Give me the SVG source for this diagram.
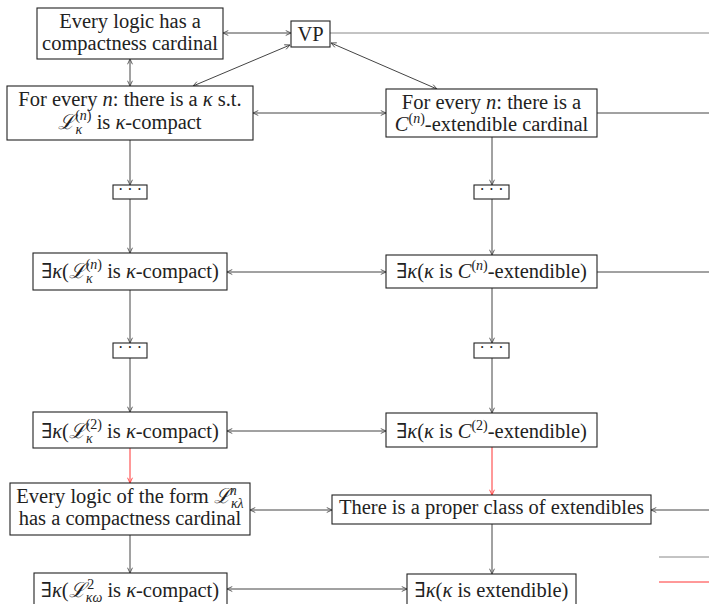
<svg xmlns="http://www.w3.org/2000/svg" width="709" height="604" viewBox="0 0 709 604">
<style>
.box{fill:#fff;stroke:#222;stroke-width:1.1}
.t{font-family:"Liberation Serif","DejaVu Serif",serif;font-size:20.5px;fill:#222;text-anchor:middle}
.i{font-style:italic}
.s{font-size:14px}
.c{fill:none;stroke:#444;stroke-width:1}
.g{fill:none;stroke:#888;stroke-width:1}
.r{fill:none;stroke:#f33;stroke-width:1}
.dots{font-family:"Liberation Serif","DejaVu Serif",serif;font-size:16px;fill:#222;text-anchor:middle}
</style>
<defs>
<marker id="a" viewBox="0 0 10 10" refX="9.5" refY="5" markerWidth="7" markerHeight="7" orient="auto-start-reverse" markerUnits="userSpaceOnUse"><path d="M2,1.5 L9.5,5 L2,8.5" fill="none" stroke="#444" stroke-width="1.2"/></marker>
<marker id="ar" viewBox="0 0 10 10" refX="9.5" refY="5" markerWidth="7" markerHeight="7" orient="auto-start-reverse" markerUnits="userSpaceOnUse"><path d="M2,1.5 L9.5,5 L2,8.5" fill="none" stroke="#f33" stroke-width="1.2"/></marker>
</defs>
<g id="connectors">
<line class="c" x1="223" y1="33" x2="291" y2="33" marker-start="url(#a)" marker-end="url(#a)"/>
<line class="g" x1="330" y1="33" x2="709" y2="33"/>
<line class="c" x1="290" y1="45" x2="193" y2="86" marker-start="url(#a)" marker-end="url(#a)"/>
<line class="c" x1="331" y1="43" x2="437" y2="89" marker-start="url(#a)" marker-end="url(#a)"/>
<line class="c" x1="130" y1="59" x2="130" y2="86" marker-start="url(#a)" marker-end="url(#a)"/>
<line class="c" x1="253" y1="113" x2="386" y2="113" marker-start="url(#a)" marker-end="url(#a)"/>
<line class="c" x1="597" y1="113" x2="709" y2="113"/>
<line class="c" x1="130" y1="140" x2="130" y2="185" marker-end="url(#a)"/>
<line class="c" x1="130" y1="199" x2="130" y2="253" marker-end="url(#a)"/>
<line class="c" x1="492" y1="137" x2="492" y2="185" marker-end="url(#a)"/>
<line class="c" x1="492" y1="199" x2="492" y2="255" marker-end="url(#a)"/>
<line class="c" x1="227" y1="272" x2="386" y2="272" marker-start="url(#a)" marker-end="url(#a)"/>
<line class="c" x1="597" y1="272" x2="709" y2="272"/>
<line class="c" x1="130" y1="290" x2="130" y2="343" marker-end="url(#a)"/>
<line class="c" x1="130" y1="358" x2="130" y2="412" marker-end="url(#a)"/>
<line class="c" x1="492" y1="288" x2="492" y2="343" marker-end="url(#a)"/>
<line class="c" x1="492" y1="358" x2="492" y2="413" marker-end="url(#a)"/>
<line class="c" x1="227" y1="431" x2="386" y2="431" marker-start="url(#a)" marker-end="url(#a)"/>
<line class="r" x1="130" y1="448" x2="130" y2="483" marker-end="url(#ar)"/>
<line class="r" x1="492" y1="447" x2="492" y2="495" marker-end="url(#ar)"/>
<line class="c" x1="250" y1="510" x2="332" y2="510" marker-start="url(#a)" marker-end="url(#a)"/>
<line class="c" x1="709" y1="510" x2="651" y2="510" marker-end="url(#a)"/>
<line class="c" x1="130" y1="535" x2="130" y2="573" marker-end="url(#a)"/>
<line class="c" x1="492" y1="524" x2="492" y2="574" marker-end="url(#a)"/>
<line class="c" x1="227" y1="589" x2="407" y2="589" marker-start="url(#a)" marker-end="url(#a)"/>
<line class="g" x1="659" y1="557" x2="709" y2="557" stroke-width="1.3"/>
<line class="r" x1="659" y1="582" x2="709" y2="582" stroke-width="1.6"/>
</g>
<g id="n1"><rect class="box" x="37" y="8" width="186" height="51"/>
<text class="t" x="130" y="28">Every logic has a</text>
<text class="t" x="130" y="50">compactness cardinal</text></g>
<g id="vp"><rect class="box" x="291" y="21" width="39" height="26"/>
<text class="t" x="310.5" y="41">VP</text></g>
<g id="n3"><rect class="box" x="7" y="86" width="246" height="54"/>
<text class="t" x="130" y="106">For every <tspan class="i">n</tspan>: there is a <tspan class="i">κ</tspan> s.t.</text>
<text class="t" x="130" y="129"><tspan class="i">ℒ</tspan><tspan class="s i" dy="5">κ</tspan><tspan class="s" dx="-7" dy="-14">(<tspan class="i">n</tspan>)</tspan><tspan dy="9"> is </tspan><tspan class="i">κ</tspan>-compact</text></g>
<g id="n4"><rect class="box" x="386" y="89" width="211" height="48"/>
<text class="t" x="491.5" y="109">For every <tspan class="i">n</tspan>: there is a</text>
<text class="t" x="491.5" y="131"><tspan class="i">C</tspan><tspan class="s" dy="-8">(<tspan class="i">n</tspan>)</tspan><tspan dy="8">-extendible cardinal</tspan></text></g>
<g id="d1"><rect class="box" x="113" y="185" width="34" height="14"/><text class="dots" x="130" y="195">· · ·</text></g>
<g id="d2"><rect class="box" x="474" y="185" width="35" height="14"/><text class="dots" x="491.5" y="195">· · ·</text></g>
<g id="n5"><rect class="box" x="33" y="253" width="194" height="37"/>
<text class="t" x="130" y="278">∃<tspan class="i">κ</tspan>(<tspan class="i">ℒ</tspan><tspan class="s i" dy="5">κ</tspan><tspan class="s" dx="-7" dy="-14">(<tspan class="i">n</tspan>)</tspan><tspan dy="9"> is </tspan><tspan class="i">κ</tspan>-compact)</text></g>
<g id="n6"><rect class="box" x="386" y="255" width="211" height="33"/>
<text class="t" x="491.5" y="278">∃<tspan class="i">κ</tspan>(<tspan class="i">κ</tspan> is <tspan class="i">C</tspan><tspan class="s" dy="-8">(<tspan class="i">n</tspan>)</tspan><tspan dy="8">-extendible)</tspan></text></g>
<g id="d3"><rect class="box" x="113" y="343" width="34" height="15"/><text class="dots" x="130" y="353">· · ·</text></g>
<g id="d4"><rect class="box" x="474" y="343" width="35" height="15"/><text class="dots" x="491.5" y="353">· · ·</text></g>
<g id="n7"><rect class="box" x="33" y="412" width="194" height="36"/>
<text class="t" x="130" y="438">∃<tspan class="i">κ</tspan>(<tspan class="i">ℒ</tspan><tspan class="s i" dy="5">κ</tspan><tspan class="s" dx="-7" dy="-14">(2)</tspan><tspan dy="9"> is </tspan><tspan class="i">κ</tspan>-compact)</text></g>
<g id="n8"><rect class="box" x="386" y="413" width="211" height="34"/>
<text class="t" x="491.5" y="438">∃<tspan class="i">κ</tspan>(<tspan class="i">κ</tspan> is <tspan class="i">C</tspan><tspan class="s" dy="-8">(2)</tspan><tspan dy="8">-extendible)</tspan></text></g>
<g id="n9"><rect class="box" x="10" y="483" width="240" height="52"/>
<text class="t" x="130" y="503">Every logic of the form <tspan class="i">ℒ</tspan><tspan class="s i" dy="5">κλ</tspan><tspan class="s i" dx="-14" dy="-13">n</tspan><tspan dy="8" dx="7"></tspan></text>
<text class="t" x="130" y="525">has a compactness cardinal</text></g>
<g id="n10"><rect class="box" x="332" y="495" width="319" height="29"/>
<text class="t" x="491.5" y="514">There is a proper class of extendibles</text></g>
<g id="n11"><rect class="box" x="34" y="573" width="193" height="36"/>
<text class="t" x="130" y="597">∃<tspan class="i">κ</tspan>(<tspan class="i">ℒ</tspan><tspan class="s i" dy="5">κω</tspan><tspan class="s" dx="-15" dy="-13">2</tspan><tspan dy="8" dx="8"> is </tspan><tspan class="i">κ</tspan>-compact)</text></g>
<g id="n12"><rect class="box" x="407" y="574" width="169" height="36"/>
<text class="t" x="491.5" y="597">∃<tspan class="i">κ</tspan>(<tspan class="i">κ</tspan> is extendible)</text></g>
</svg>
